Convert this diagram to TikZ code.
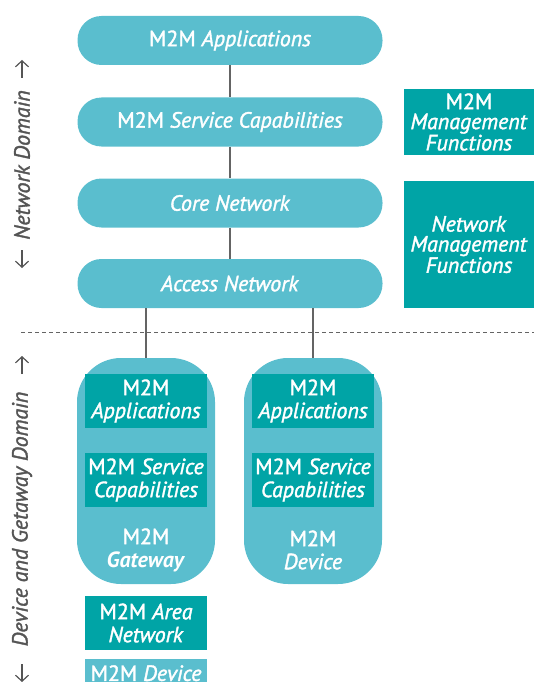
\documentclass[tikz,border=0pt]{standalone}
\usetikzlibrary{arrows.meta}
\usepackage{fontspec}
\setmainfont{PT Sans}[UprightFeatures={FakeBold=1.6},ItalicFeatures={FakeBold=1.6}]
\definecolor{light}{RGB}{90,190,206}
\definecolor{dark}{RGB}{0,164,166}
\definecolor{conn}{RGB}{100,100,100}
\definecolor{lbl}{RGB}{85,85,85}
\newcommand\myfs{\fontsize{22}{23}\selectfont}
\begin{document}
\begin{tikzpicture}[x=1pt,y=-1pt,
  pill/.style={fill=light, rounded corners=24pt, minimum width=305pt, minimum height=49pt, text=white, font=\myfs, inner sep=0pt},
  tall/.style={fill=light, rounded corners=44pt, minimum width=138pt, minimum height=226pt, inner sep=0pt},
  dbox/.style={fill=dark, text=white, font=\myfs, align=center, inner sep=0pt, minimum width=122pt, minimum height=54pt},
  rbox/.style={fill=dark, text=white, font=\fontsize{22}{20}\selectfont, align=center, inner sep=0pt, minimum width=130pt},
  wtxt/.style={text=white, font=\myfs, align=center, inner sep=0pt},
  side/.style={text=lbl, font=\myfs, rotate=90, inner sep=0pt},
  sarr/.style={draw=lbl, line width=1.2pt, -{Straight Barb[length=6pt,width=13pt]}},
  conline/.style={draw=conn, line width=1.4pt}]
\useasboundingbox (0,0) rectangle (534,682);
% network domain
\node[pill] (app) at (230,40.5) {M2M \textit{Applications}};
\node[pill] (sc) at (230,122) {M2M \textit{Service Capabilities}};
\node[pill] (core) at (230,203) {\textit{Core Network}};
\node[pill] (acc) at (230,283.5) {\textit{Access Network}};
\draw[conline] (app) -- (sc);
\draw[conline] (sc) -- (core);
\draw[conline] (core) -- (acc);
\node[rbox, minimum height=66pt] (mmf) at (469,122) {M2M\\\textit{Management}\\\textit{Functions}};
\node[rbox, minimum height=127pt] (nmf) at (469,244.5) {\textit{Network}\\\textit{Management}\\\textit{Functions}};
% separator
\coordinate (dl) at (21,332);
\coordinate (dr) at (534,332);
\draw[draw=conn, line width=1pt, dash pattern=on 4pt off 3pt] (dl) -- (dr);
% device and gateway domain
\node[tall] (gw) at (146,471) {};
\node[tall] (dev) at (313,471) {};
\draw[conline] (gw.north) -- (gw.north |- acc.south);
\draw[conline] (dev.north) -- (dev.north |- acc.south);
\node[dbox] (gwapp) at (146,401) {M2M\\\textit{Applications}};
\node[dbox] (gwsc) at (146,480) {M2M \textit{Service}\\\textit{Capabilities}};
\node[wtxt] (gwl) at (146,550) {M2M\\\textbf{\textit{Gateway}}};
\node[dbox] (devapp) at (313,401) {M2M\\\textit{Applications}};
\node[dbox] (devsc) at (313,480) {M2M \textit{Service}\\\textit{Capabilities}};
\node[wtxt] (devl) at (313,550) {M2M\\\textit{Device}};
\node[dbox] (area) at (146,623) {M2M \textit{Area}\\\textit{Network}};
\node[dbox, fill=light, minimum height=28pt, anchor=north] (m2mdev) at (146,659) {M2M \textit{Device}};
% side labels
\node[side] (nd) at (22,165) {\textit{Network Domain}};
\node[side] (dd) at (22,519) {\textit{Device and Getaway Domain}};
\coordinate (a1s) at (22,78); \coordinate (a1e) at (22,60);
\coordinate (a2s) at (22,250); \coordinate (a2e) at (22,268);
\coordinate (a3s) at (22,374); \coordinate (a3e) at (22,356);
\coordinate (a4s) at (22,664); \coordinate (a4e) at (22,682);
\draw[sarr] (a1s) -- (a1e);
\draw[sarr] (a2s) -- (a2e);
\draw[sarr] (a3s) -- (a3e);
\draw[sarr] (a4s) -- (a4e);
\end{tikzpicture}
\end{document}
